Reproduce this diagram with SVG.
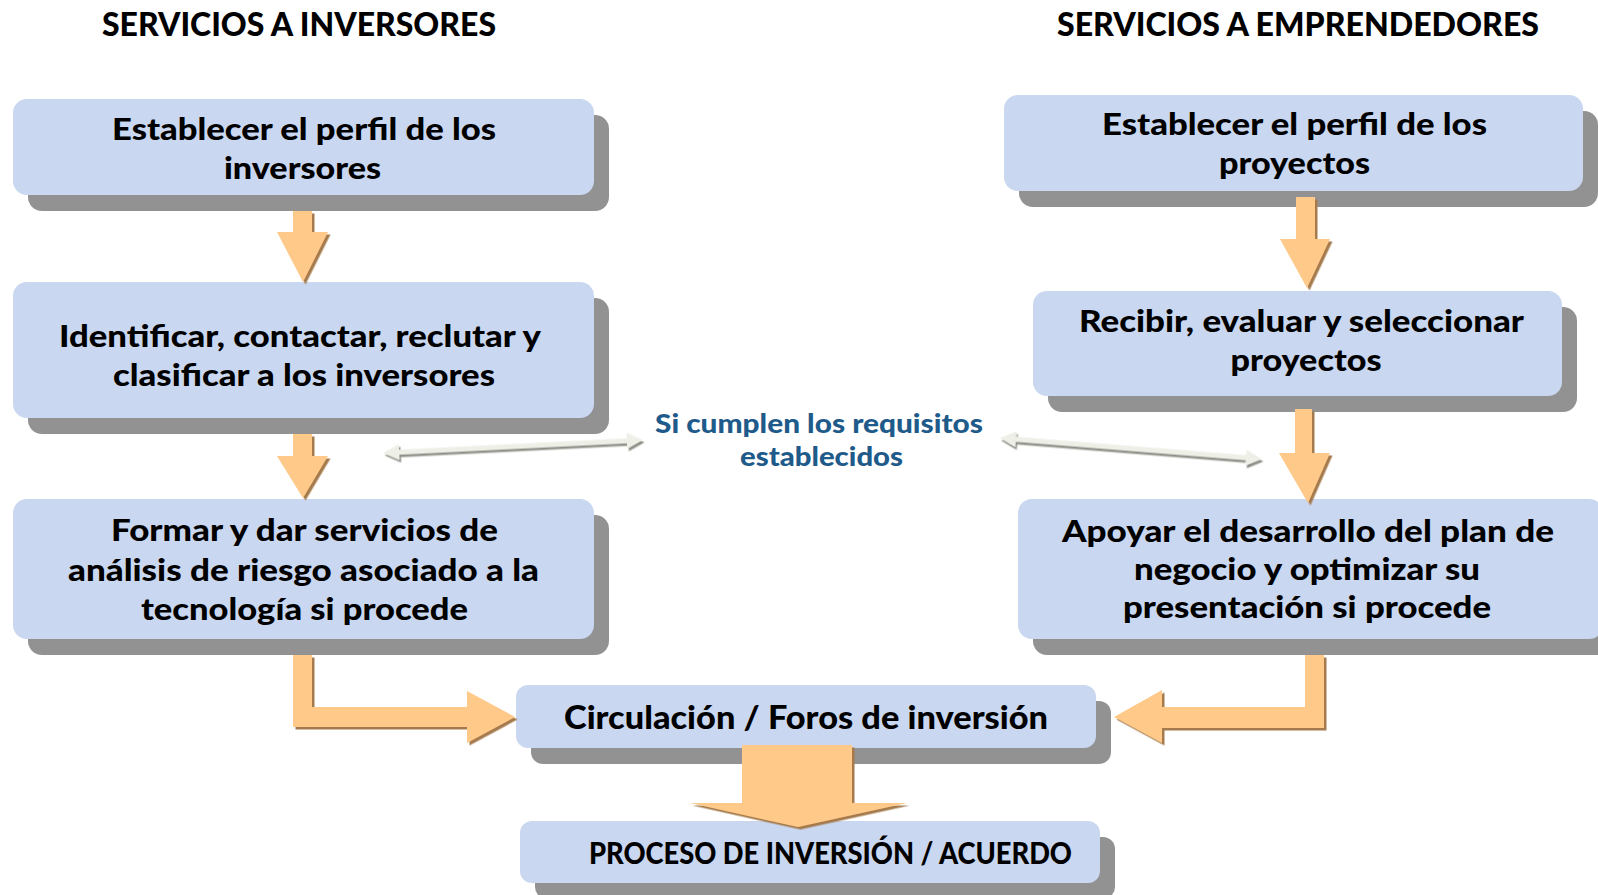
<svg xmlns="http://www.w3.org/2000/svg" width="1598" height="895" viewBox="0 0 1598 895">
<defs>
<style>
.box{fill:#C9D7F0}
.sh{fill:#929292}
.t{font-family:Lato,"Open Sans","Liberation Sans",sans-serif;font-weight:900;fill:#000;text-anchor:middle}
.bt{font-size:31px}
.tt{font-size:33px}
.lbl{font-family:Lato,"Open Sans","Liberation Sans",sans-serif;font-weight:900;font-size:27px;fill:#1F5B8A;text-anchor:middle}
.arr{fill:#FFC98A;filter:url(#ash)}
.dbl{fill:#EEEFE7;filter:url(#dsh)}
</style>
<filter id="ash" x="-20%" y="-20%" width="140%" height="140%">
<feDropShadow dx="2.5" dy="2.5" stdDeviation="0.4" flood-color="#A57A4E" flood-opacity="1"/>
</filter>
<filter id="dsh" x="-10%" y="-50%" width="120%" height="200%">
<feDropShadow dx="1.5" dy="2.5" stdDeviation="0.6" flood-color="#8C8C84" flood-opacity="1"/>
</filter>
</defs>
<rect width="1598" height="895" fill="#FFFFFF"/>

<g id="titles">
<text class="t tt" x="299" y="36" textLength="394" lengthAdjust="spacingAndGlyphs">SERVICIOS A INVERSORES</text>
<text class="t tt" x="1298" y="36" textLength="482" lengthAdjust="spacingAndGlyphs">SERVICIOS A EMPRENDEDORES</text>
</g>

<g id="n1">
<rect class="sh" x="28" y="115" width="581" height="96" rx="14"/>
<rect class="box" x="13" y="99" width="581" height="96" rx="14"/>
<text class="t bt" x="304" y="140" textLength="384" lengthAdjust="spacingAndGlyphs">Establecer el perfil de los</text>
<text class="t bt" x="302.5" y="179" textLength="157" lengthAdjust="spacingAndGlyphs">inversores</text>
</g>

<g id="n2">
<rect class="sh" x="28" y="298" width="581" height="136" rx="14"/>
<rect class="box" x="13" y="282" width="581" height="136" rx="14"/>
<text class="t bt" x="300" y="347" textLength="482" lengthAdjust="spacingAndGlyphs">Identificar, contactar, reclutar y</text>
<text class="t bt" x="304" y="386" textLength="382" lengthAdjust="spacingAndGlyphs">clasificar a los inversores</text>
</g>

<g id="n3">
<rect class="sh" x="28" y="515" width="581" height="140" rx="14"/>
<rect class="box" x="13" y="499" width="581" height="140" rx="14"/>
<text class="t bt" x="304.5" y="541" textLength="387" lengthAdjust="spacingAndGlyphs">Formar y dar servicios de</text>
<text class="t bt" x="303.5" y="581" textLength="471" lengthAdjust="spacingAndGlyphs">análisis de riesgo asociado a la</text>
<text class="t bt" x="304.5" y="620" textLength="327" lengthAdjust="spacingAndGlyphs">tecnología si procede</text>
</g>

<g id="n4">
<rect class="sh" x="1019" y="111" width="579" height="96" rx="14"/>
<rect class="box" x="1004" y="95" width="579" height="96" rx="14"/>
<text class="t bt" x="1294.5" y="135" textLength="385" lengthAdjust="spacingAndGlyphs">Establecer el perfil de los</text>
<text class="t bt" x="1294.5" y="174" textLength="151" lengthAdjust="spacingAndGlyphs">proyectos</text>
</g>

<g id="n5">
<rect class="sh" x="1048" y="307" width="529" height="105" rx="14"/>
<rect class="box" x="1033" y="291" width="529" height="105" rx="14"/>
<text class="t bt" x="1301.5" y="332" textLength="445" lengthAdjust="spacingAndGlyphs">Recibir, evaluar y seleccionar</text>
<text class="t bt" x="1306" y="371" textLength="151" lengthAdjust="spacingAndGlyphs">proyectos</text>
</g>

<g id="n6">
<rect class="sh" x="1033" y="515" width="580" height="140" rx="14"/>
<rect class="box" x="1018" y="499" width="585" height="140" rx="14"/>
<text class="t bt" x="1308" y="542" textLength="492" lengthAdjust="spacingAndGlyphs">Apoyar el desarrollo del plan de</text>
<text class="t bt" x="1307" y="580" textLength="346" lengthAdjust="spacingAndGlyphs">negocio y optimizar su</text>
<text class="t bt" x="1307" y="618" textLength="368" lengthAdjust="spacingAndGlyphs">presentación si procede</text>
</g>

<g id="n7">
<rect class="sh" x="531" y="701" width="580" height="63" rx="12"/>
<rect class="box" x="516" y="685" width="580" height="63" rx="12"/>
<text class="t" style="font-size:32px" x="806" y="729" textLength="484" lengthAdjust="spacingAndGlyphs">Circulación / Foros de inversión</text>
</g>

<g id="n8">
<rect class="sh" x="535" y="837" width="580" height="62" rx="12"/>
<rect class="box" x="520" y="821" width="580" height="62" rx="12"/>
<text class="t" style="font-size:30px" x="830.5" y="864" textLength="483" lengthAdjust="spacingAndGlyphs">PROCESO DE INVERSIÓN / ACUERDO</text>
</g>

<g id="label">
<text class="lbl" x="819" y="433" textLength="328" lengthAdjust="spacingAndGlyphs">Si cumplen los requisitos</text>
<text class="lbl" x="821.5" y="466" textLength="163" lengthAdjust="spacingAndGlyphs">establecidos</text>
</g>

<g id="connectors">
<path class="arr" d="M293,211 L312,211 L312,232 L328,232 L303,282 L277,232 L293,232 Z"/>
<path class="arr" d="M293,434 L312,434 L312,456 L328,456 L303,498 L277,456 L293,456 Z"/>
<path class="arr" d="M1296,197 L1315,197 L1315,239 L1330,239 L1307,288 L1280,239 L1296,239 Z"/>
<path class="arr" d="M1295,409 L1312,409 L1312,453 L1330,453 L1308,503 L1279,453 L1295,453 Z"/>
<path class="arr" d="M293,655 L312,655 L312,707 L467,707 L467,691 L515,717 L467,743 L467,727 L293,727 Z"/>
<path class="arr" d="M1324,655 L1305,655 L1305,707 L1162,707 L1162,690 L1114,717 L1162,743 L1162,728 L1324,728 Z"/>
<path class="arr" d="M742,745 L852,745 L852,803 L907,803 L798,827 L690,803 L742,803 Z"/>
<polygon class="dbl" transform="translate(513 446.5) rotate(-2.86)" points="-130,0 -114,-8 -114,-2.5 114,-2.5 114,-8 130,0 114,8 114,2.5 -114,2.5 -114,8"/>
<polygon class="dbl" transform="translate(1131 448.5) rotate(4.58)" points="-131.4,0 -115.4,-8 -115.4,-2.5 115.4,-2.5 115.4,-8 131.4,0 115.4,8 115.4,2.5 -115.4,2.5 -115.4,8"/>
</g>
</svg>
